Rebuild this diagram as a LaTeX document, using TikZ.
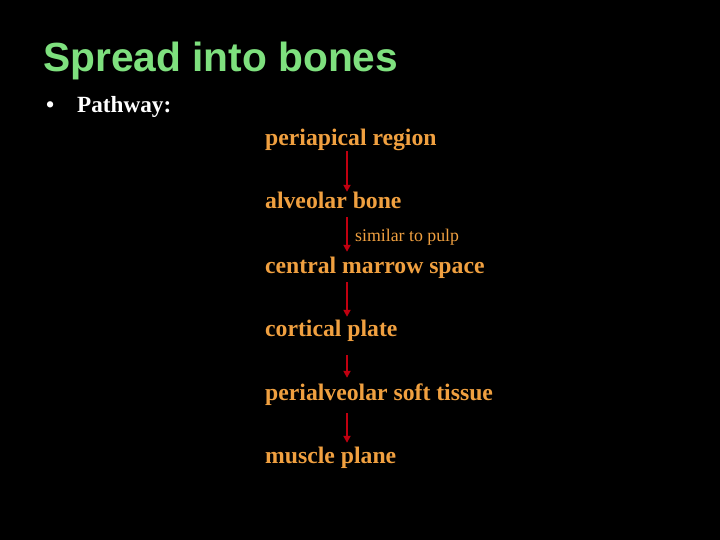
\documentclass[tikz,border=0pt]{standalone}
\usepackage{fontspec}
\setmainfont{Liberation Serif}
\newfontfamily\titlefont{Liberation Sans}
\usetikzlibrary{arrows.meta}
\definecolor{titlegreen}{HTML}{7EE07E}
\definecolor{itemorange}{HTML}{F0A040}
\definecolor{arrred}{HTML}{C00010}
\tikzset{
  item/.style={anchor=base west, inner sep=0pt, text height=16pt, text depth=5pt, text=itemorange, font=\fontsize{23.7}{27}\selectfont\bfseries},
  arr/.style={draw=arrred, line width=1.8pt, -{Triangle[length=7pt,width=7pt]}}
}
\begin{document}
\begin{tikzpicture}[x=1pt,y=-1pt]
\fill[black] (0,0) rectangle (720,540);
\useasboundingbox (0,0) rectangle (720,540);
\node[anchor=base west, inner sep=0pt, text=titlegreen, font=\titlefont\fontsize{40.7}{44}\selectfont\bfseries] (title) at (43,72) {Spread into bones};
\node[anchor=base west, inner sep=0pt, text=white, font=\fontsize{23.2}{26}\selectfont\bfseries] (bullet) at (46,113) {\textbullet};
\node[anchor=base west, inner sep=0pt, text=white, font=\fontsize{23.2}{26}\selectfont\bfseries] (pathway) at (77,113) {Pathway:};
\coordinate (ax) at (347,0);
\node[item] (n1) at (265,146) {periapical region};
\node[item] (n2) at (265,209) {alveolar bone};
\node[item] (n3) at (265,273) {central marrow space};
\node[item] (n4) at (265,336) {cortical plate};
\node[item] (n5) at (265,400) {perialveolar soft tissue};
\node[item] (n6) at (265,463) {muscle plane};
\node[anchor=base west, inner sep=0pt, text=itemorange, font=\fontsize{17.8}{20}\selectfont] (sim) at (355,241) {similar to pulp};
\draw[arr, shorten >=1pt] (n1.south -| ax) -- (n2.north -| ax);
\draw[arr, shorten <=3pt, shorten >=5pt] (n2.south -| ax) -- (n3.north -| ax);
\draw[arr, shorten <=4pt, shorten >=3pt] (n3.south -| ax) -- (n4.north -| ax);
\draw[arr, shorten <=14pt, shorten >=6pt] (n4.south -| ax) -- (n5.north -| ax);
\draw[arr, shorten <=8pt, shorten >=4pt] (n5.south -| ax) -- (n6.north -| ax);
\end{tikzpicture}
\end{document}
